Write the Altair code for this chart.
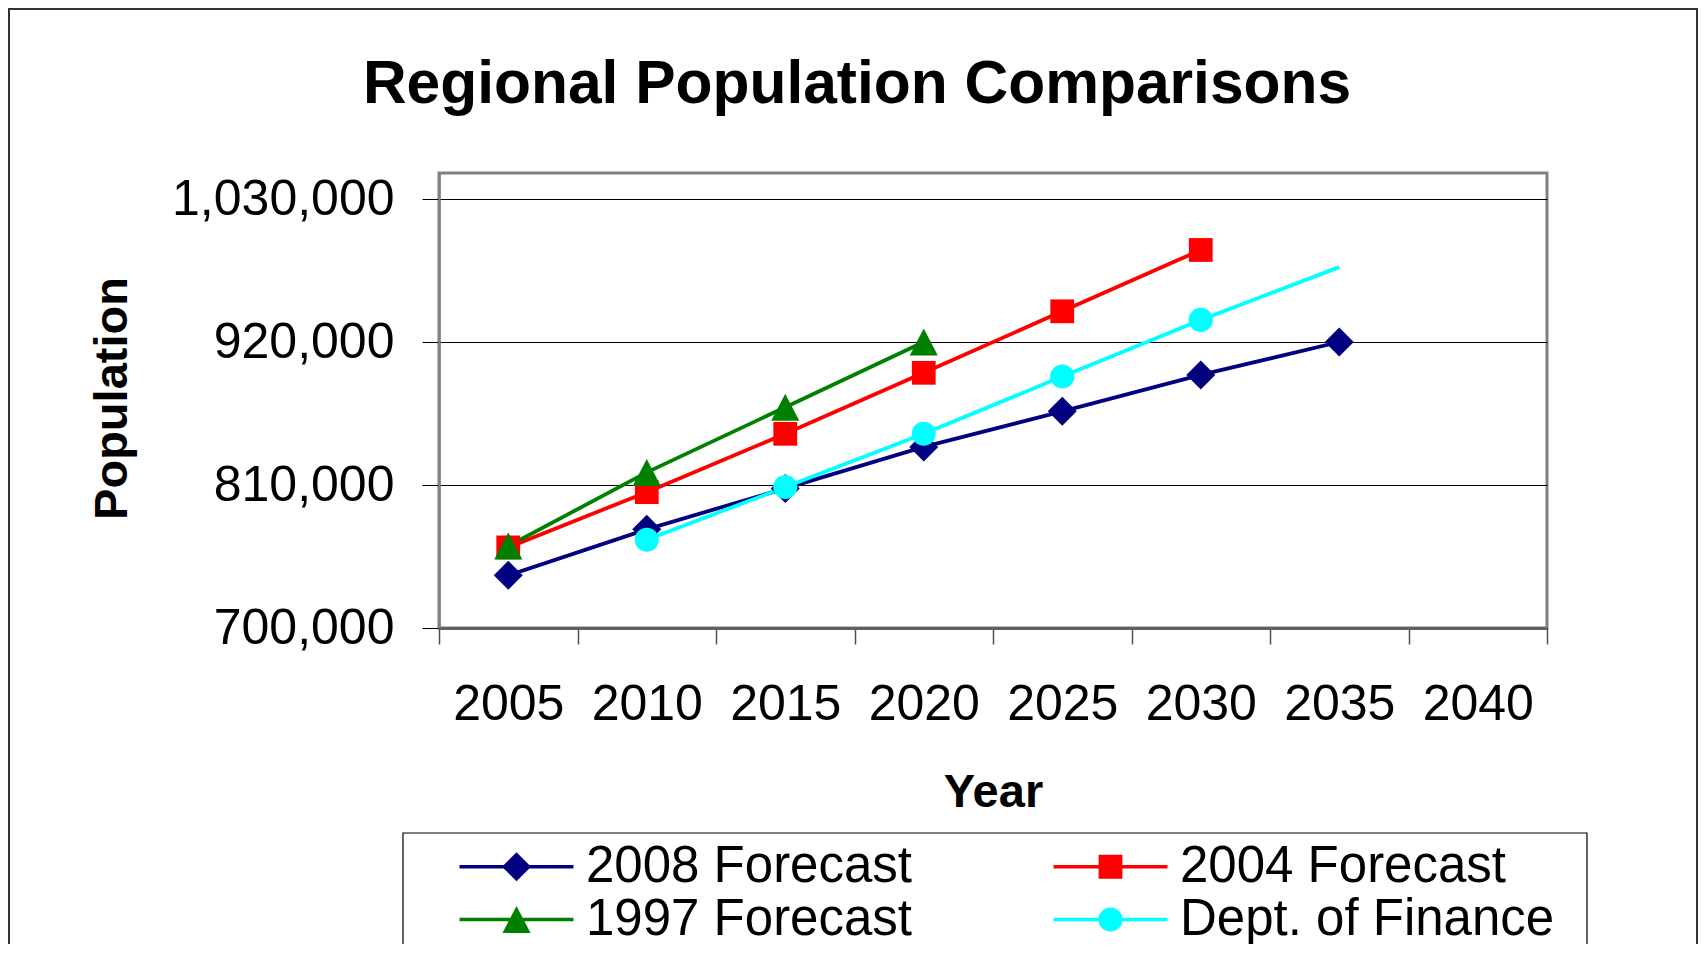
import altair as alt
import pandas as pd

# ---- data ----
years = [2005, 2010, 2015, 2020, 2025, 2030, 2035, 2040]
series_names = ["2008 Forecast", "2004 Forecast", "1997 Forecast", "Dept. of Finance"]
forecast_2008 = [740500, 775900, 807400, 839300, 866700, 894700, 920000, None]
forecast_2004 = [762000, 804500, 849400, 896300, 943600, 990800, None, None]
forecast_1997 = [763000, 819700, 869800, 920000, None, None, None, None]
dept_finance = [None, 767900, 808400, 849400, 893400, 937000, 977600, None]
hidden_markers = [("Dept. of Finance", 2035)]  # marker covered in the original
y_ticks = [700000, 810000, 920000, 1030000]
colors = ["#000080", "#FF0000", "#008000", "#00FFFF"]
legend_order = ["2008 Forecast", "1997 Forecast", "2004 Forecast", "Dept. of Finance"]

# marker shapes (unit paths)
marker_paths = [
    "M0,-1L1,0L0,1L-1,0Z",
    "M-0.82,-0.82H0.82V0.82H-0.82Z",
    "M0,-0.93L0.97,0.93H-0.97Z",
    "M0.83,0A0.83,0.83,0,1,1,-0.83,0A0.83,0.83,0,1,1,0.83,0Z",
]
seg = "M-3.93,-0.12H3.93V0.12H-3.93Z "
legend_paths = [seg + p for p in marker_paths]

rows = []
for name, vals in zip(series_names, [forecast_2008, forecast_2004, forecast_1997, dept_finance]):
    for yr, v in zip(years, vals):
        if v is not None:
            rows.append({"series": name, "year": yr, "population": v,
                         "marker": (name, yr) not in hidden_markers})
df = pd.DataFrame(rows)

FONT = "Liberation Sans"

x_enc = alt.X(
    "year:O",
    scale=alt.Scale(type="band", domain=years, paddingInner=0, paddingOuter=0),
    axis=alt.Axis(
        title="Year", labelAngle=0, tickBand="extent", grid=False,
        labelFont=FONT, labelFontSize=50, labelColor="black", labelPadding=35,
        tickSize=16, tickColor="#505050", tickWidth=1.5,
        domainColor="#606060", domainWidth=3,
        titleFont=FONT, titleFontSize=47, titleFontWeight="bold", titleColor="black",
        titleBaseline="alphabetic", titleY=178,
    ),
)
y_enc = alt.Y(
    "population:Q",
    scale=alt.Scale(domain=[700000, 1050000], nice=False, zero=False),
    axis=alt.Axis(
        title="Population", values=y_ticks, format=",d",
        labelFont=FONT, labelFontSize=50, labelColor="black", labelPadding=28, labelLimit=400,
        tickSize=17, tickColor="black", tickWidth=1,
        grid=True, gridColor="black", gridWidth=1,
        domainColor="#808080", domainWidth=2.5,
        titleFont=FONT, titleFontSize=47, titleFontWeight="bold", titleColor="black",
        titleBaseline="alphabetic", titleAlign="center", titleX=-313, titleY=225,
    ),
)

color_scale = alt.Scale(domain=series_names, range=colors)

base = alt.Chart(df)

lines = base.mark_line(strokeWidth=3.8).encode(
    x=x_enc, y=y_enc,
    color=alt.Color("series:N", scale=color_scale, legend=None),
    order=alt.Order("year:Q"),
)

points = base.transform_filter("datum.marker").mark_point(
    filled=True, size=841, opacity=1, strokeWidth=0
).encode(
    x=x_enc, y=y_enc,
    color=alt.Color("series:N", scale=color_scale, legend=None),
    shape=alt.Shape("series:N", scale=alt.Scale(domain=series_names, range=marker_paths), legend=None),
)

idx = [series_names.index(s) for s in legend_order]
legend_def = alt.Legend(
    title=None, orient="none", legendX=20, legendY=668, columns=2,
    labelFont=FONT, labelFontSize=51, labelColor="black", labelLimit=800,
    symbolSize=841, symbolOffset=32, labelOffset=44, symbolStrokeWidth=0,
    columnPadding=140, rowPadding=1, padding=0,
)
legend_layer = base.transform_filter("false").mark_point(
    filled=True, size=841, opacity=1, strokeWidth=0
).encode(
    color=alt.Color("series:N", scale=alt.Scale(domain=legend_order, range=[colors[i] for i in idx]),
                    legend=legend_def),
    shape=alt.Shape("series:N", scale=alt.Scale(domain=legend_order, range=[legend_paths[i] for i in idx]),
                    legend=legend_def),
)

one = alt.Chart(pd.DataFrame({"k": [0]}))
outer_frame = one.mark_rect(fill="transparent", stroke="#333333", strokeWidth=2).encode(
    x=alt.value(-430), x2=alt.value(1258), y=alt.value(-164), y2=alt.value(800)
)
legend_box = one.mark_rect(fill="transparent", stroke="black", strokeWidth=1.2).encode(
    x=alt.value(-36), x2=alt.value(1148), y=alt.value(660), y2=alt.value(800)
)

chart = alt.layer(outer_frame, legend_box, lines, points, legend_layer).resolve_scale(
    color="independent", shape="independent"
).properties(
    width=1108, height=455,
    autosize=alt.AutoSizeParams(type="none"),
    padding={"left": 431, "top": 165, "right": 151, "bottom": 316},
    title=alt.Title(
        "Regional Population Comparisons", font=FONT, fontSize=60.5, fontWeight="bold",
        color="black", anchor="middle", frame="group", dx=-136, offset=0, dy=155,
        baseline="alphabetic",
    ),
).configure_view(stroke="#808080", strokeWidth=3)

chart.save("out.html", embed_options={"renderer": "svg", "actions": False})
